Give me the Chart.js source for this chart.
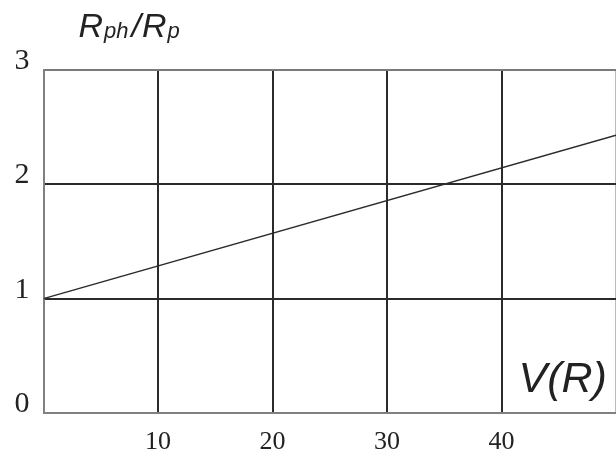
<!DOCTYPE html>
<html>
<head>
<meta charset="utf-8">
<script src="https://cdn.jsdelivr.net/npm/chart.js@4/dist/chart.umd.min.js"></script>
<style>
html,body{margin:0;padding:0;background:#fff;}
#wrap{position:relative;width:616px;height:453px;}
</style>
</head>
<body>
<div id="wrap"><canvas id="c" width="616" height="453"></canvas></div>
<script>
// Data
const xValues = [0, 50];
const yValues = [1, 2.43];
const xTicks = [0, 10, 20, 30, 40, 50];
const yTicks = [0, 1, 2, 3];
const xTickLabels = ['', '10', '20', '30', '40', ''];
const yTickLabels = ['0', '1', '2', '3'];
const yTitleParts = [['R', 'big'], ['ph', 'small'], ['/', 'big'], ['R', 'big'], ['p', 'small']];
const xTitle = 'V(R)';

const titlesPlugin = {
  id: 'titles',
  afterDraw(chart) {
    const ctx = chart.ctx;
    const area = chart.chartArea;
    ctx.save();
    ctx.fillStyle = '#222';
    ctx.textBaseline = 'alphabetic';
    ctx.textAlign = 'left';
    let x = area.left + 35;
    const base = area.top - 33;
    for (const [t, sz] of yTitleParts) {
      ctx.font = sz === 'big' ? 'italic 34px "Liberation Sans", Arial, sans-serif' : 'italic 22px "Liberation Sans", Arial, sans-serif';
      ctx.fillText(t, x, sz === 'big' ? base : base + 1);
      x += ctx.measureText(t).width + (sz === 'big' ? 1 : 3);
    }
    ctx.font = 'italic 43px "Liberation Sans", Arial, sans-serif';
    ctx.fillText(xTitle, area.left + 475, area.bottom - 21);
    ctx.restore();
  }
};

new Chart(document.getElementById('c'), {
  type: 'scatter',
  data: {
    datasets: [{
      data: xValues.map((x, i) => ({x: x, y: yValues[i]})),
      showLine: true,
      borderColor: '#2a2a2a',
      borderWidth: 1.4,
      pointRadius: 0,
      pointHoverRadius: 0,
      fill: false,
      clip: 0
    }]
  },
  options: {
    responsive: false,
    animation: false,
    events: [],
    layout: {autoPadding: false, padding: {top: 70, right: 0, left: 0, bottom: 0}},
    plugins: {legend: {display: false}, tooltip: {enabled: false}, title: {display: false}},
    scales: {
      x: {
        type: 'linear',
        min: 0, max: 50,
        afterBuildTicks(s) { s.ticks = xTicks.map(v => ({value: v})); },
        afterFit(s) { s.height = 40; s.paddingLeft = 0; s.paddingRight = 0; },
        ticks: {
          callback: (v) => xTickLabels[xTicks.indexOf(v)] ?? '',
          color: '#222',
          font: {family: '"Liberation Serif", "Times New Roman", serif', size: 26},
          padding: 14,
          maxRotation: 0,
          autoSkip: false
        },
        grid: {
          color: (c) => (c.tick && c.tick.value === 50) ? '#bbbbbb' : '#2b2b2b',
          lineWidth: 2,
          drawTicks: false
        },
        border: {color: '#808080', width: 2}
      },
      y: {
        type: 'linear',
        min: 0, max: 3,
        afterBuildTicks(s) { s.ticks = yTicks.map(v => ({value: v})); },
        afterFit(s) { s.width = 43.5; s.paddingTop = 0; s.paddingBottom = 0; },
        ticks: {
          callback: (v) => [yTickLabels[yTicks.indexOf(v)] ?? '', ''],
          color: '#222',
          font: {family: '"Liberation Serif", "Times New Roman", serif', size: 30, lineHeight: 0.6},
          padding: 14,
          autoSkip: false
        },
        grid: {
          color: (c) => (c.tick && c.tick.value === 3) ? '#7a7a7a' : '#2b2b2b',
          lineWidth: 2,
          drawTicks: false
        },
        border: {color: '#808080', width: 2}
      }
    }
  },
  plugins: [titlesPlugin]
});
</script>
</body>
</html>
